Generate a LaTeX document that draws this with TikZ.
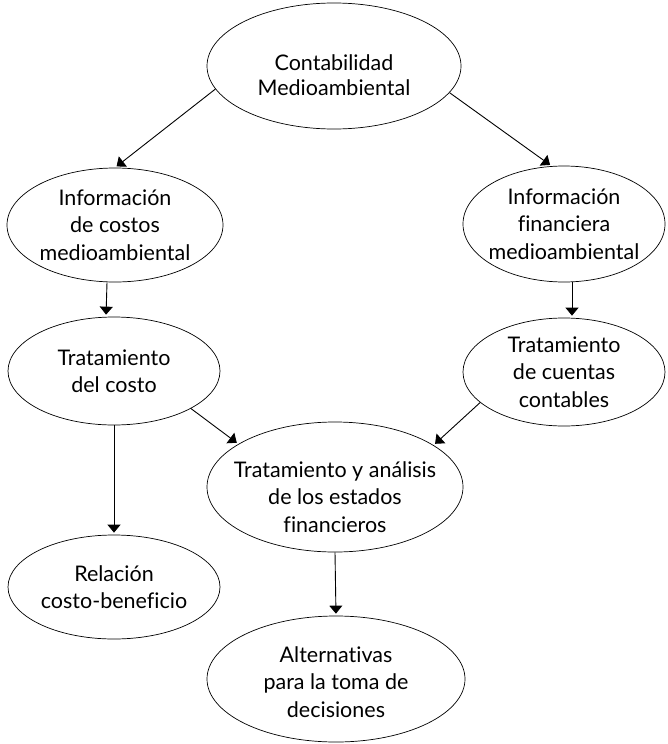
\documentclass[tikz,border=0pt]{standalone}
\usepackage{fontspec}
\setmainfont[Ligatures=CommonOff]{Lato}
\usetikzlibrary{shapes.geometric,arrows.meta}

\begin{document}
\begin{tikzpicture}[x=1pt,y=-1pt]
    \tikzstyle{bubble}=[draw, ellipse, inner sep=0pt, line width=0.7pt]
    \tikzstyle{txt}=[inner sep=0pt, align=center, font=\fontsize{21.5}{27.5}\selectfont]
    \tikzstyle{arr}=[-{Triangle[length=8pt,width=13pt]}, line width=0.9pt, shorten >=2pt]
    \useasboundingbox (0,0) rectangle (667,744);
    % ellipses
    \node [bubble, minimum width=254pt, minimum height=126pt] (cont) at (334,66) {};
    \node [bubble, minimum width=216pt, minimum height=114pt] (infoC) at (115,225) {};
    \node [bubble, minimum width=202pt, minimum height=116pt] (infoF) at (564,224) {};
    \node [bubble, minimum width=212pt, minimum height=108pt] (tratC) at (114,371) {};
    \node [bubble, minimum width=202pt, minimum height=108pt] (tratCC) at (564,372) {};
    \node [bubble, minimum width=256pt, minimum height=130pt] (estados) at (335,487) {};
    \node [bubble, minimum width=212pt, minimum height=104pt] (relacion) at (114,587) {};
    \node [bubble, minimum width=258pt, minimum height=126pt] (altern) at (336,679) {};
    % texts
    \node [txt, font=\fontsize{21.5}{24.5}\selectfont] (contL) at ([yshift=-9pt]cont) {Contabilidad\\Medioambiental};
    \node [txt] (infoCL) at (infoC) {Información\\de costos\\medioambiental};
    \node [txt] (infoFL) at (infoF) {Información\\financiera\\medioambiental};
    \node [txt] (tratCL) at (tratC) {Tratamiento\\del costo};
    \node [txt] (tratCCL) at (tratCC) {Tratamiento\\de cuentas\\contables};
    \node [txt] (estadosL) at ([yshift=-10pt]estados) {Tratamiento y análisis\\de los estados\\financieros};
    \node [txt] (relacionL) at (relacion) {Relación\\costo-beneficio};
    \node [txt] (alternL) at ([yshift=-3pt]altern) {Alternativas\\para la toma de\\decisiones};
    % arrows
    \draw [arr] (cont.191) -- (infoC.north);
    \draw [arr] (cont.347) -- (infoF.102);
    \draw [arr] ([xshift=-8pt]infoC.south) -- ([xshift=-8pt]tratC.north);
    \draw [arr] ([xshift=8pt]infoF.south) -- ([xshift=8pt]tratCC.north);
    \draw [arr] (tratC.south) -- (relacion.north);
    \draw [arr] (tratC.334) -- (estados.156);
    \draw [arr] (tratCC.200) -- (estados.23);
    \draw [arr] (estados.south) -- (altern.north);
\end{tikzpicture}
\end{document}
